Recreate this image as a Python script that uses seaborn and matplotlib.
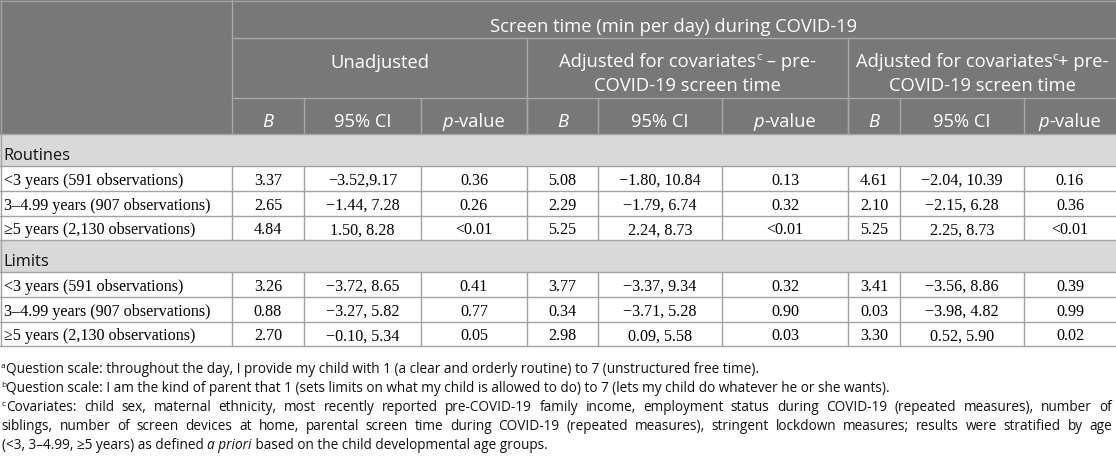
import matplotlib
matplotlib.use("Agg")
import numpy as np
import pandas as pd
import seaborn as sns
import matplotlib.pyplot as plt
from matplotlib.patches import Rectangle

sns.set_theme(style="white")
plt.rcParams['font.family'] = ['Open Sans', 'DejaVu Sans']

# ---------------- data ----------------
group_title = "Screen time (min per day) during COVID-19"
model_titles = ["Unadjusted",
                "Adjusted for covariates|c| – pre-\nCOVID-19 screen time",
                "Adjusted for covariates|c|+ pre-\nCOVID-19 screen time"]
stat_headers = ["B", "95% CI", "p-value"]
sections = ["Routines", "Limits"]
age_groups = ["<3 years (591 observations)",
              "3–4.99 years (907 observations)",
              "≥5 years (2,130 observations)"]

routines_unadj_B = ["3.37", "2.65", "4.84"]
routines_unadj_CI = ["−3.52,9.17", "−1.44, 7.28", "1.50, 8.28"]
routines_unadj_p = ["0.36", "0.26", "<0.01"]
routines_adj_B = ["5.08", "2.29", "5.25"]
routines_adj_CI = ["−1.80, 10.84", "−1.79, 6.74", "2.24, 8.73"]
routines_adj_p = ["0.13", "0.32", "<0.01"]
routines_adjpre_B = ["4.61", "2.10", "5.25"]
routines_adjpre_CI = ["−2.04, 10.39", "−2.15, 6.28", "2.25, 8.73"]
routines_adjpre_p = ["0.16", "0.36", "<0.01"]

limits_unadj_B = ["3.26", "0.88", "2.70"]
limits_unadj_CI = ["−3.72, 8.65", "−3.27, 5.82", "−0.10, 5.34"]
limits_unadj_p = ["0.41", "0.77", "0.05"]
limits_adj_B = ["3.77", "0.34", "2.98"]
limits_adj_CI = ["−3.37, 9.34", "−3.71, 5.28", "0.09, 5.58"]
limits_adj_p = ["0.32", "0.90", "0.03"]
limits_adjpre_B = ["3.41", "0.03", "3.30"]
limits_adjpre_CI = ["−3.56, 8.86", "−3.98, 4.82", "0.52, 5.90"]
limits_adjpre_p = ["0.39", "0.99", "0.02"]

footnote_a = "Question scale: throughout the day, I provide my child with 1 (a clear and orderly routine) to 7 (unstructured free time)."
footnote_b = "Question scale: I am the kind of parent that 1 (sets limits on what my child is allowed to do) to 7 (lets my child do whatever he or she wants)."
footnote_c1 = "Covariates: child sex, maternal ethnicity, most recently reported pre-COVID-19 family income, employment status during COVID-19 (repeated measures), number of"
footnote_c2 = "siblings, number of screen devices at home, parental screen time during COVID-19 (repeated measures), stringent lockdown measures; results were stratified by age"
footnote_c3 = ["(<3, 3–4.99, ≥5 years) as defined ", "a priori", " based on the child developmental age groups."]

section_rows = {
    "Routines": [routines_unadj_B, routines_unadj_CI, routines_unadj_p,
                 routines_adj_B, routines_adj_CI, routines_adj_p,
                 routines_adjpre_B, routines_adjpre_CI, routines_adjpre_p],
    "Limits": [limits_unadj_B, limits_unadj_CI, limits_unadj_p,
               limits_adj_B, limits_adj_CI, limits_adj_p,
               limits_adjpre_B, limits_adjpre_CI, limits_adjpre_p],
}

# ---------------- layout ----------------
W, H = 1116, 457
fig = plt.figure(figsize=(W / 100, H / 100), dpi=100)
ax = fig.add_axes([0, 0, 1, 1])
ax.set_xlim(0, W)
ax.set_ylim(H, 0)
ax.axis("off")
renderer = fig.canvas.get_renderer()

HDR_BG = "#787878"
HDR_LINE = "#a9a9a9"
SEC_BG = "#d9d9d9"
LINE = "#a3a3a3"
TXT = "#111111"
SANS = ['Open Sans', 'DejaVu Sans']
SERIF = ['Liberation Serif', 'DejaVu Serif']
HDR_FS = 13.2
SEC_FS = 11.8
BODY_FS = 11.6
FN_FS = 9.8

col_edges = [0, 232, 304, 421, 527, 598, 722, 848, 900, 1024, W]
hdr_y = [0, 37.7, 97.7, 134.3]
sec_h = 32.0
row_h = 24.7


def w_run(s, **kw):
    t1 = ax.text(0, 0, "|" + s + "|", **kw)
    t2 = ax.text(0, 0, "||", **kw)
    w = t1.get_window_extent(renderer).width - t2.get_window_extent(renderer).width
    t1.remove(); t2.remove()
    return w


def draw_runs(x, y, runs, ha="center", color="black", fs=12, family=SANS):
    """runs: list of (text, style) where style in 'n','i','sup'."""
    widths = []
    for txt, st in runs:
        kw = dict(family=family, fontsize=fs * (0.62 if st == "sup" else 1.0),
                  style="italic" if st == "i" else "normal")
        widths.append((w_run(txt, **kw), kw))
    total = sum(w for w, _ in widths)
    cx = x - total / 2 if ha == "center" else x
    for (txt, st), (w, kw) in zip(runs, widths):
        dy = -fs * 0.55 if st == "sup" else 0
        ax.text(cx, y + dy, txt, ha="left", va="baseline", color=color, **kw)
        cx += w
    return cx


def parse_runs(s):
    parts = s.split("|")
    runs = []
    for i, p in enumerate(parts):
        if p:
            runs.append((p, "sup" if i % 2 == 1 else "n"))
    return runs


def justify(x0, x1, y, text, fs, family=SANS):
    words = text.split(" ")
    ws = [w_run(wd, family=family, fontsize=fs) for wd in words]
    gap = (x1 - x0 - sum(ws)) / (len(words) - 1)
    cx = x0
    for wd, w in zip(words, ws):
        ax.text(cx, y, wd, ha="left", va="baseline", family=family, fontsize=fs, color=TXT)
        cx += w + gap


# header background
ax.add_patch(Rectangle((0, 0), W, hdr_y[3], facecolor=HDR_BG, edgecolor="none", zorder=0))
# header lines
ax.plot([col_edges[1], W], [hdr_y[1]] * 2, color=HDR_LINE, lw=1.0)
ax.plot([col_edges[1], W], [hdr_y[2]] * 2, color=HDR_LINE, lw=1.0)
ax.plot([col_edges[1], col_edges[1]], [0, hdr_y[3]], color=HDR_LINE, lw=1.0)
for gi in (4, 7):
    ax.plot([col_edges[gi]] * 2, [hdr_y[1], hdr_y[3]], color=HDR_LINE, lw=1.0)
for ci in range(2, 10):
    ax.plot([col_edges[ci]] * 2, [hdr_y[2], hdr_y[3]], color=HDR_LINE, lw=1.0)

# header texts
draw_runs((col_edges[1] + W) / 2, 31.7, [(group_title, "n")], color="white", fs=HDR_FS)
group_spans = [(col_edges[1], col_edges[4]), (col_edges[4], col_edges[7]), (col_edges[7], col_edges[10])]
for (a, b), title in zip(group_spans, model_titles):
    lines = title.split("\n")
    if len(lines) == 1:
        draw_runs((a + b) / 2, 68.0, parse_runs(lines[0]), color="white", fs=HDR_FS)
    else:
        draw_runs((a + b) / 2, 66.8, parse_runs(lines[0]), color="white", fs=HDR_FS)
        draw_runs((a + b) / 2, 90.8, parse_runs(lines[1]), color="white", fs=HDR_FS)
stat_runs = {"B": [("B", "i")], "95% CI": [("95% CI", "n")], "p-value": [("p", "i"), ("-value", "n")]}
for ci in range(9):
    cx = (col_edges[ci + 1] + col_edges[ci + 2]) / 2
    draw_runs(cx, 127.3, stat_runs[stat_headers[ci % 3]], color="white", fs=HDR_FS)

# body
y = hdr_y[3]
hlines = [y]
for sec in sections:
    ax.add_patch(Rectangle((0, y), W, sec_h, facecolor=SEC_BG, edgecolor="none", zorder=0))
    ax.text(3.5, y + sec_h - 6.4, sec, ha="left", va="baseline", family=SANS, fontsize=SEC_FS, color=TXT)
    y += sec_h
    hlines.append(y)
    cols = section_rows[sec]
    for ri, label in enumerate(age_groups):
        top = y
        base = top + row_h - 6.0
        ax.text(4, base, label, ha="left", va="baseline", family=SERIF, fontsize=BODY_FS, color="black")
        for ci in range(9):
            cx = (col_edges[ci + 1] + col_edges[ci + 2]) / 2
            ax.text(cx, base, cols[ci][ri], ha="center", va="baseline", family=SERIF,
                    fontsize=BODY_FS, color="black")
        for ce in col_edges[1:-1]:
            ax.plot([ce, ce], [top, top + row_h], color=LINE, lw=1.0)
        y += row_h
        hlines.append(y)
table_bottom = y
for hy in hlines:
    ax.plot([0, W], [hy, hy], color=LINE, lw=1.0)
# outer border
ax.plot([0.5, 0.5], [0, table_bottom], color=LINE, lw=1.0)
ax.plot([0, W], [0.5, 0.5], color=LINE, lw=1.0)

# footnotes
fb = table_bottom + 26.8
sp = 19.0
draw_runs(1.0, fb, [("a", "sup")], ha="left", fs=FN_FS, color=TXT)
ax.text(6, fb, footnote_a, ha="left", va="baseline", family=SANS, fontsize=FN_FS, color=TXT)
draw_runs(1.0, fb + sp, [("b", "sup")], ha="left", fs=FN_FS, color=TXT)
ax.text(6, fb + sp, footnote_b, ha="left", va="baseline", family=SANS, fontsize=FN_FS, color=TXT)
draw_runs(1.0, fb + 2 * sp, [("c", "sup")], ha="left", fs=FN_FS, color=TXT)
justify(6, 1112, fb + 2 * sp, footnote_c1, FN_FS)
justify(1.7, 1112, fb + 3 * sp, footnote_c2, FN_FS)
draw_runs(1.7, fb + 4 * sp, [(footnote_c3[0], "n"), (footnote_c3[1], "i"), (footnote_c3[2], "n")],
          ha="left", fs=FN_FS, color=TXT)

fig.savefig("out.png", dpi=100)
